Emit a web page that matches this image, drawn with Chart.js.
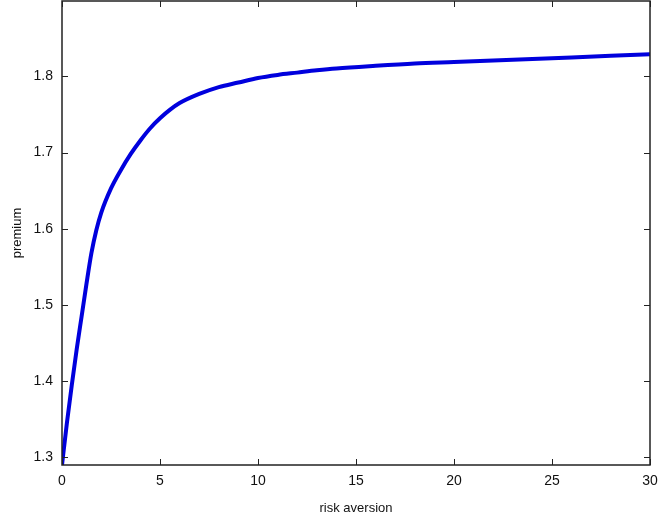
<!DOCTYPE html>
<html>
<head>
<meta charset="utf-8">
<script src="https://cdn.jsdelivr.net/npm/chart.js@4"></script>
<style>
  html, body { margin: 0; padding: 0; background: #fff; }
  #wrap { width: 660px; height: 520px; }
</style>
</head>
<body>
<div id="wrap"><canvas id="premiumChart" width="660" height="520"></canvas></div>
<script>
// values
const riskAversion = [0, 0.25, 0.5, 0.75, 1, 1.25, 1.5, 1.75, 2, 2.5, 3, 3.5, 4, 4.5, 5, 5.5, 6, 7, 8, 9, 10, 11, 12, 13, 14, 16, 18, 20, 22, 24, 26, 28, 30];
const premium = [1.29, 1.345, 1.395, 1.442, 1.485, 1.528, 1.568, 1.598, 1.621, 1.653, 1.677, 1.698, 1.716, 1.732, 1.745, 1.756, 1.765, 1.777, 1.786, 1.792, 1.798, 1.802, 1.805, 1.808, 1.8105, 1.814, 1.817, 1.819, 1.821, 1.823, 1.825, 1.827, 1.829];
const xTicks = [0, 5, 10, 15, 20, 25, 30];
const yTicks = [1.3, 1.4, 1.5, 1.6, 1.7, 1.8];

const font = "'Liberation Sans', Arial, sans-serif";

// matlab style: box around the axes, small ticks pointing inward on all sides
const boxTicks = {
  id: "boxTicks",
  afterDraw(chart) {
    const ctx = chart.ctx;
    const a = chart.chartArea;
    const xs = chart.scales.x, ys = chart.scales.y;
    ctx.save();
    ctx.strokeStyle = "#222";
    ctx.lineWidth = 1.5;
    ctx.strokeRect(a.left, a.top, a.right - a.left, a.bottom - a.top);
    ctx.lineWidth = 1;
    ctx.beginPath();
    xTicks.forEach(v => {
      const px = Math.round(xs.getPixelForValue(v)) + 0.5;
      ctx.moveTo(px, a.bottom); ctx.lineTo(px, a.bottom - 6);
      ctx.moveTo(px, a.top); ctx.lineTo(px, a.top + 6);
    });
    yTicks.forEach(v => {
      const py = Math.round(ys.getPixelForValue(v)) + 0.5;
      ctx.moveTo(a.left, py); ctx.lineTo(a.left + 6, py);
      ctx.moveTo(a.right, py); ctx.lineTo(a.right - 6, py);
    });
    ctx.stroke();
    ctx.restore();
  }
};

new Chart(document.getElementById("premiumChart").getContext("2d"), {
  type: "line",
  data: {
    datasets: [{
      data: riskAversion.map((x, i) => ({ x: x, y: premium[i] })),
      borderColor: "#0000dd",
      borderWidth: 4,
      pointRadius: 0,
      cubicInterpolationMode: "monotone",
      fill: false
    }]
  },
  options: {
    responsive: false,
    animation: false,
    layout: { padding: { top: 1, right: 10, left: 0, bottom: 0 } },
    plugins: { legend: { display: false }, tooltip: { enabled: false } },
    scales: {
      x: {
        type: "linear",
        min: 0,
        max: 30,
        afterBuildTicks: s => { s.ticks = xTicks.map(v => ({ value: v })); },
        afterFit: s => { s.height = 55; s.paddingLeft = 0; s.paddingRight = 0; },
        grid: { display: false, drawTicks: false },
        border: { display: false },
        ticks: { color: "#111", font: { family: font, size: 14 }, padding: 8, maxRotation: 0 },
        title: { display: true, text: "risk aversion", color: "#111", font: { family: font, size: 13 }, padding: { top: 2 } }
      },
      y: {
        type: "linear",
        min: 1.29,
        max: 1.899,
        afterBuildTicks: s => { s.ticks = yTicks.map(v => ({ value: v })); },
        afterFit: s => { s.width = 62; s.paddingTop = 0; s.paddingBottom = 0; },
        grid: { display: false, drawTicks: false },
        border: { display: false },
        ticks: { color: "#111", font: { family: font, size: 14 }, padding: 9, callback: v => v.toFixed(1) },
        title: { display: true, text: "premium", color: "#111", font: { family: font, size: 13 }, padding: { bottom: 0, top: 10 } }
      }
    }
  },
  plugins: [boxTicks]
});
</script>
</body>
</html>
